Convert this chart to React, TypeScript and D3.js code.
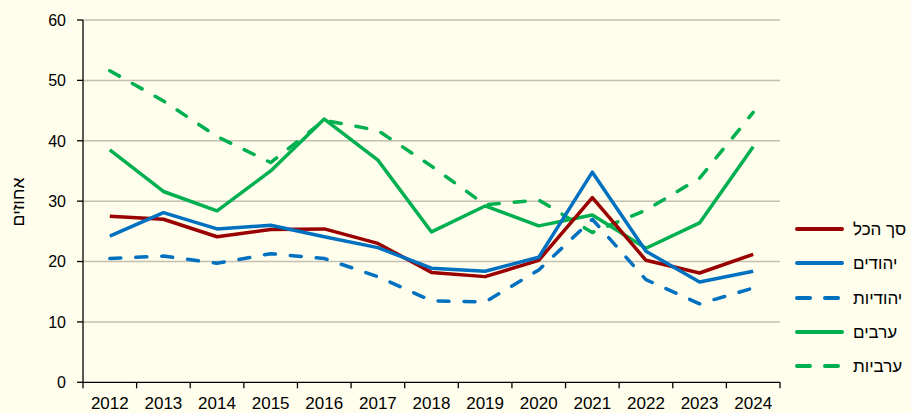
import React from "react";
import * as d3 from "d3";

const years = ["2012","2013","2014","2015","2016","2017","2018","2019","2020","2021","2022","2023","2024"];
const total = [27.5, 27.0, 24.1, 25.3, 25.4, 23.0, 18.2, 17.5, 20.2, 30.6, 20.2, 18.1, 21.2];
const jews = [24.2, 28.1, 25.4, 26.0, 24.1, 22.3, 18.9, 18.4, 20.7, 34.8, 21.7, 16.6, 18.4];
const jewishWomen = [20.5, 20.9, 19.7, 21.3, 20.5, 17.5, 13.5, 13.3, 18.6, 27.0, 17.0, 13.0, 15.6];
const arabs = [38.5, 31.6, 28.4, 35.0, 43.6, 36.8, 24.9, 29.2, 25.9, 27.7, 22.2, 26.4, 39.0];
const arabWomen = [51.6, 46.6, 40.7, 36.4, 43.4, 41.7, 35.8, 29.4, 30.2, 24.8, 28.5, 33.8, 44.7];
const yTicks = [0, 10, 20, 30, 40, 50, 60];
const seriesNames = ["סך הכל", "יהודים", "יהודיות", "ערבים", "ערביות"];
const yTitle = "אחוזים";

const W = 911, H = 413;
const left = 83, right = 780, top = 20, bottom = 382.3;

export default function App() {
  const x = d3.scaleBand<string>().domain(years).range([left, right]);
  const y = d3.scaleLinear().domain([0, 60]).range([bottom, top]);
  const cx = (i: number) => (x(years[i]) as number) + x.bandwidth() / 2;
  const line = d3.line<number>().x((_, i) => cx(i)).y((d) => y(d));

  const series = [
    { name: seriesNames[0], data: total, color: "#990000", dash: null },
    { name: seriesNames[1], data: jews, color: "#0070C0", dash: null },
    { name: seriesNames[2], data: jewishWomen, color: "#0070C0", dash: "11,15" },
    { name: seriesNames[3], data: arabs, color: "#00B050", dash: null },
    { name: seriesNames[4], data: arabWomen, color: "#00B050", dash: "11,15" },
  ];
  const drawOrder = [2, 4, 3, 0, 1];
  const boundaries = [...years.map((yr) => x(yr) as number), right];
  const legendY = [229, 263, 298, 332, 366];

  return (
    <svg width={W} height={H} style={{ position: "fixed", left: 0, top: 0, background: "#FFFDEB" }}
      fontFamily="'Liberation Sans', Arial, sans-serif">
      <rect x={0} y={0} width={W} height={H} fill="#FFFDEB" />
      {yTicks.filter((t) => t > 0).map((t) => (
        <line key={"g" + t} x1={left} x2={right} y1={y(t)} y2={y(t)} stroke="#C3BFB2" strokeWidth={1.5} />
      ))}
      {yTicks.map((t) => (
        <g key={"yt" + t}>
          <line x1={left - 6} x2={left} y1={y(t)} y2={y(t)} stroke="#000" strokeWidth={1.3} />
          <text x={66} y={y(t)} dy="0.36em" textAnchor="end" fontSize={16} fill="#000">{t}</text>
        </g>
      ))}
      {boundaries.map((b, i) => (
        <line key={"xt" + i} x1={b} x2={b} y1={bottom} y2={bottom + 6} stroke="#000" strokeWidth={1.3} />
      ))}
      {years.map((yr, i) => (
        <text key={"xl" + yr} x={cx(i)} y={409} textAnchor="middle" fontSize={17} fill="#000">{yr}</text>
      ))}
      <line x1={left} x2={left} y1={top} y2={bottom} stroke="#000" strokeWidth={1.3} />
      <line x1={left} x2={right} y1={bottom} y2={bottom} stroke="#000" strokeWidth={1.3} />
      <text transform={`translate(24,202) rotate(-90)`} textAnchor="middle" fontSize={17.5} fill="#000">{yTitle}</text>
      {drawOrder.map((k) => {
        const s = series[k];
        return (
          <path key={"s" + k} d={line(s.data) as string} fill="none" stroke={s.color} strokeWidth={3.5}
            strokeLinejoin="round" strokeLinecap={s.dash ? "round" : "butt"} strokeDasharray={s.dash || undefined} />
        );
      })}
      {series.map((s, k) => (
        <g key={"lg" + k}>
          <line x1={797} x2={s.dash ? 839 : 842} y1={legendY[k]} y2={legendY[k]} stroke={s.color} strokeWidth={4}
            strokeLinecap="round" strokeDasharray={s.dash ? "13,15" : undefined} />
          <text x={853} y={legendY[k]} dy="0.36em" fontSize={17} fill="#000">{s.name}</text>
        </g>
      ))}
    </svg>
  );
}
